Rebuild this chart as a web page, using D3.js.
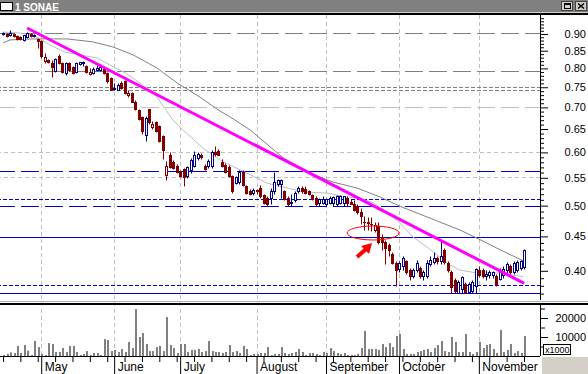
<!DOCTYPE html>
<html>
<head>
<meta charset="utf-8">
<script src="https://cdn.jsdelivr.net/npm/d3@7"></script>
<style>
  body { margin: 0; background: #fff; }
  svg { display: block; font-family: "Liberation Sans", Arial, sans-serif; }
</style>
</head>
<body>
<div id="chart"></div>
<script>
// daily prices, late April .. mid November (151 sessions)
const openP = [
  .900,.900,.897,.900,.894,.891,.882,.891,.900,.895,.885,
  .879,.821,.824,.815,.793,.835,.815,.788,.815,.804,.791,.813,.815,.807,.786,.788,.795,.795,.799,.788,.775,
  .746,.744,.760,.765,.730,.736,.714,.693,.677,.637,.695,.655,.665,.657,.635,.556,.595,.581,.573,
  .562,.566,.554,.564,.573,.589,.595,.573,.573,.573,.601,.603,.581,.575,.571,.554,.541,.543,.562,.534,.525,.523,
  .527,.532,.519,.514,.514,.525,.539,.539,.525,.514,.504,.509,.525,.532,.530,.525,.518,.514,.504,.505,
  .502,.505,.504,.503,.505,.504,.513,.506,.503,.499,.489,.473,.472,.470,.460,.467,.449,.442,.437,.424,.411,
  .402,.407,.413,.401,.393,.401,.404,.393,.393,.409,.412,.418,.413,.429,.411,.398,.387,.371,.376,.382,.372,.373,.380,
  .401,.401,.393,.394,.394,.393,.389,.394,.401,.407,.398,.401,.404,.405
];
const highP = [
  .906,.903,.912,.903,.897,.894,.897,.906,.903,.900,.888,
  .882,.843,.827,.824,.830,.841,.818,.818,.818,.807,.818,.818,.821,.810,.802,.804,.810,.813,.802,.791,.778,
  .762,.760,.765,.768,.744,.739,.717,.695,.680,.679,.697,.668,.668,.659,.637,.583,.600,.585,.577,
  .564,.569,.573,.588,.603,.601,.599,.577,.587,.605,.614,.607,.587,.579,.575,.556,.554,.564,.564,.536,.530,.532,
  .530,.536,.521,.516,.532,.562,.547,.547,.528,.516,.521,.525,.534,.534,.534,.528,.521,.516,.514,.516,
  .514,.516,.517,.518,.518,.516,.516,.511,.510,.503,.496,.483,.481,.481,.473,.473,.454,.445,.440,.427,.413,
  .413,.421,.415,.404,.404,.415,.407,.401,.415,.421,.427,.421,.445,.433,.413,.401,.390,.387,.393,.385,.385,.387,.404,
  .407,.404,.401,.401,.400,.395,.404,.407,.412,.409,.413,.415,.415,.431
];
const lowP = [
  .897,.891,.894,.891,.882,.882,.879,.888,.891,.891,.858,
  .830,.815,.815,.778,.790,.813,.788,.783,.793,.786,.788,.810,.807,.788,.783,.786,.793,.793,.786,.762,.742,
  .742,.742,.746,.734,.726,.712,.693,.670,.639,.624,.661,.650,.644,.622,.587,.545,.569,.567,.560,
  .551,.534,.549,.560,.571,.585,.587,.564,.569,.569,.593,.595,.571,.560,.551,.523,.538,.539,.534,.521,.518,.518,
  .521,.514,.502,.500,.502,.521,.534,.514,.509,.500,.500,.507,.523,.523,.520,.518,.509,.500,.500,.502,
  .500,.502,.500,.500,.502,.500,.500,.502,.491,.486,.470,.460,.460,.458,.457,.439,.429,.410,.421,.409,.380,
  .398,.401,.395,.387,.390,.398,.390,.387,.390,.407,.409,.409,.410,.410,.398,.371,.371,.371,.371,.371,.371,.371,.371,
  .391,.390,.387,.390,.390,.380,.387,.390,.395,.395,.395,.398,.401,.402
];
const closeP = [
  .903,.894,.903,.894,.885,.884,.897,.903,.894,.897,.879,
  .835,.832,.818,.804,.827,.815,.791,.815,.796,.788,.815,.818,.818,.791,.789,.799,.802,.804,.788,.765,.744,
  .749,.757,.749,.736,.735,.714,.695,.672,.646,.675,.665,.662,.646,.624,.605,.573,.571,.569,.562,
  .554,.552,.571,.585,.595,.597,.591,.567,.583,.601,.597,.595,.573,.562,.554,.525,.551,.562,.536,.523,.521,.528,
  .525,.516,.504,.502,.525,.543,.545,.546,.511,.502,.507,.523,.532,.525,.523,.521,.511,.502,.511,.512,
  .512,.514,.515,.516,.516,.517,.504,.503,.493,.489,.483,.472,.471,.469,.468,.442,.441,.433,.429,.411,.401,
  .411,.418,.398,.393,.401,.411,.393,.398,.411,.415,.418,.413,.421,.412,.401,.378,.373,.385,.392,.372,.382,.385,.402,
  .394,.393,.395,.398,.399,.382,.401,.402,.409,.398,.411,.412,.413,.430
];
// volume in thousands
const volume = [
  500,1100,1900,1600,5300,1600,5800,2800,500,7900,4700,1100,500,6800,6300,2100,2100,4200,2100,5300,
  5300,2100,500,1100,2600,500,1600,1600,500,8900,8400,2600,3200,2100,3700,2100,7400,4200,24700,10000,
  12100,6300,2600,2600,4700,5300,2600,20500,5800,4200,1600,6300,6300,2100,3200,3200,3700,
  2100,2600,7900,2600,2100,2100,1600,2100,5800,2100,2600,1600,5300,3700,500,1100,1100,1600,1600,4700,
  500,1100,1100,4700,1600,1100,1600,2100,3700,2100,500,1600,1600,1100,500,2100,1600,4200,2600,1600,
  1100,1600,500,500,500,1100,4200,13200,3700,3700,3700,3200,6300,4700,6800,4700,10500,11600,
  3700,1100,1100,1100,2100,2600,3200,3700,2100,4200,5800,7900,2600,2100,10000,7400,2100,2100,11600,2100,
  1100,2100,7400,4200,5800,6300,3700,1600,13700,2100,3200,6300,1600,2600,1600,10500
];

const months = ["May", "June", "July", "August", "September", "October", "November"];
const monthStart = [11, 32, 51, 73, 93, 114, 137];

// moving averages (session index, price)
const maLongIdx = [0, 2, 8.6, 18.4, 25.9, 31.6, 37.4, 44.3, 50.1, 56.7, 61.9, 66.2, 71.1, 80.6, 88.3, 95, 101.9, 108.5, 114.2, 122, 131.5, 137.3, 143, 149.7];
const maLong = [.873, .882, .885, .885, .876, .861, .838, .801, .761, .725, .694, .673, .648, .589, .559, .542, .531, .515, .499, .481, .460, .445, .430, .414];
const maShortIdx = [0, 4.9, 9.2, 13.5, 17.8, 22.1, 27, 30.8, 35.1, 39.4, 44.3, 48.9, 51.8, 57.5, 63.3, 70.2, 76, 81.7, 86.3, 93.2, 99, 102.7, 106.5, 110.5, 114.2, 118, 122, 125.8, 128.6, 131.5, 136.4, 143, 146.9, 149.7];
const maShort = [.906, .903, .894, .867, .846, .838, .829, .809, .788, .761, .725, .670, .648, .609, .581, .559, .540, .531, .524, .522, .515, .513, .505, .489, .471, .449, .434, .419, .408, .401, .397, .397, .394, .392];

// down trend line
const trendIdx = [6.9, 150];
const trendPrice = [0.9187, 0.3832];

// horizontal study lines
const levelPrices = [0.902, 0.792, 0.7514, 0.743, 0.7016, 0.6015, 0.551, 0.5624, 0.5109, 0.4999, 0.4498, 0.3806, 0.3707];
const levelStyle = [
  ["#808080", "18,6"], ["#808080", "18,6"], ["#808080", "4,2"], ["#808080", "4,2"], ["#c0c0c0", "18,6"],
  ["#c0c0c0", "4,3"], ["#c0c0c0", "4,3"], ["#0000cc", "18,6"], ["#0000cc", "4,2"], ["#0000cc", "18,6"],
  ["#0000cc", null], ["#0000cc", "4,2"], ["#0000cc", null]
];

const priceTicks = [0.40, 0.45, 0.50, 0.55, 0.60, 0.65, 0.70, 0.75, 0.80, 0.85, 0.90];
const volTicks = [10000, 20000];

// marked zone
const markIdx = 106.5, markPrice = 0.4553;
const arrowIdx = 106.2, arrowPrice = 0.4399;

const W = 588, H = 374;
const axisX = 540;
const N = closeP.length;

const svg = d3.select("#chart").append("svg")
  .attr("width", W)
  .attr("height", H);

const x = d3.scaleLinear().domain([0, N - 1]).range([3.1, 524.2]);
const y = d3.scaleLog().domain([0.9, 0.4]).range([34, 270.8]);
const yVol = d3.scaleLinear().domain([0, 10000]).range([356, 337]);
const px = i => Math.round(x(i)) + 0.5;
const py = p => Math.round(y(p)) + 0.5;

svg.append("rect").attr("width", W).attr("height", H).attr("fill", "#fff");

svg.append("clipPath").attr("id", "pclip")
  .append("rect").attr("x", 0).attr("y", 15).attr("width", axisX).attr("height", 285);

// month grid lines
svg.append("g")
  .selectAll("line")
  .data(monthStart)
  .join("line")
  .attr("x1", d => px(d)).attr("x2", d => px(d))
  .attr("y1", 15).attr("y2", 356)
  .attr("stroke", "#c0c0c0")
  .attr("stroke-dasharray", "4,3");

const main = svg.append("g").attr("clip-path", "url(#pclip)");

// horizontal lines
main.append("g")
  .selectAll("line")
  .data(levelPrices)
  .join("line")
  .attr("x1", 0).attr("x2", axisX)
  .attr("y1", d => py(d)).attr("y2", d => py(d))
  .attr("stroke", (d, i) => levelStyle[i][0])
  .attr("stroke-dasharray", (d, i) => levelStyle[i][1])
  .attr("stroke-dashoffset", 3);

// moving averages
const maLine = d3.line().x(d => x(d[0])).y(d => y(d[1]));
main.append("path")
  .attr("d", maLine(maLongIdx.map((d, i) => [d, maLong[i]])))
  .attr("fill", "none").attr("stroke", "#808080").attr("stroke-width", 1);
main.append("path")
  .attr("d", maLine(maShortIdx.map((d, i) => [d, maShort[i]])))
  .attr("fill", "none").attr("stroke", "#bdbdbd").attr("stroke-width", 1);

// candles
const idx = d3.range(N);
const colorOf = i => {
  const prev = i === 0 ? openP[i] : closeP[i - 1];
  return closeP[i] >= prev ? "#000080" : "#800000";
};
main.append("g")
  .selectAll("line")
  .data(idx)
  .join("line")
  .attr("x1", px).attr("x2", px)
  .attr("y1", i => py(highP[i])).attr("y2", i => py(lowP[i]))
  .attr("stroke", colorOf);
main.append("g")
  .selectAll("rect")
  .data(idx)
  .join("rect")
  .attr("x", i => px(i) - 1)
  .attr("width", 2)
  .attr("y", i => py(Math.max(openP[i], closeP[i])))
  .attr("height", i => Math.max(0.1, py(Math.min(openP[i], closeP[i])) - py(Math.max(openP[i], closeP[i]))))
  .attr("fill", i => closeP[i] < openP[i] ? colorOf(i) : "#fff")
  .attr("stroke", colorOf);

// trend line
main.append("line")
  .attr("x1", x(trendIdx[0])).attr("y1", y(trendPrice[0]))
  .attr("x2", x(trendIdx[1])).attr("y2", y(trendPrice[1]))
  .attr("stroke", "#ff00ff")
  .attr("stroke-width", 3);

// ellipse + arrow
main.append("ellipse")
  .attr("cx", x(markIdx)).attr("cy", y(markPrice))
  .attr("rx", 26).attr("ry", 7)
  .attr("fill", "none").attr("stroke", "#ff0000");
const arrow = main.append("g")
  .attr("transform", "translate(" + x(arrowIdx) + "," + y(arrowPrice) + ")");
arrow.append("line")
  .attr("x1", -6).attr("y1", 6).attr("x2", -15).attr("y2", 14)
  .attr("stroke", "#ff0000").attr("stroke-width", 4);
arrow.append("path").attr("d", "M0,0L-11,3L-3,11Z").attr("fill", "#ff0000");

// volume bars
svg.append("g")
  .selectAll("rect")
  .data(volume)
  .join("rect")
  .attr("x", (d, i) => Math.round(x(i)))
  .attr("width", 2)
  .attr("y", d => yVol(d))
  .attr("height", d => 356 - yVol(d))
  .attr("fill", "#808080");

// panel separators
svg.append("rect").attr("x", 0).attr("y", 301).attr("width", W).attr("height", 1).attr("fill", "#b0b0b0");
svg.append("rect").attr("x", 0).attr("y", 303).attr("width", W).attr("height", 2).attr("fill", "#000");

// right price axis
const styleAxis = g => {
  g.attr("font-family", null).attr("font-size", 11).attr("color", "#000");
  g.select(".domain").remove();
};
svg.append("g")
  .attr("transform", "translate(" + axisX + ",0)")
  .call(d3.axisRight(y).tickValues(d3.range(37, 96).filter(v => v % 5 !== 0 || v === 95).map(v => v / 100)).tickSize(4).tickFormat(""))
  .call(styleAxis);
svg.append("g")
  .attr("transform", "translate(" + axisX + ",0)")
  .call(d3.axisRight(y).tickValues(priceTicks).tickSize(8).tickFormat(d3.format(".2f")))
  .call(styleAxis)
  .call(g => g.selectAll("text").attr("x", 46).attr("text-anchor", "end"));

// volume axis
svg.append("g")
  .attr("transform", "translate(" + axisX + ",0)")
  .call(d3.axisRight(yVol).tickValues([5000, 15000, 25000]).tickSize(5).tickFormat(""))
  .call(styleAxis);
svg.append("g")
  .attr("transform", "translate(" + axisX + ",0)")
  .call(d3.axisRight(yVol).tickValues(volTicks).tickSize(8).tickFormat(d3.format("d")))
  .call(styleAxis)
  .call(g => g.selectAll("text").attr("x", 46).attr("text-anchor", "end"));

svg.append("path")
  .attr("d", "M" + (axisX + 0.5) + ",15V300M" + (axisX + 0.5) + ",305V356")
  .attr("stroke", "#000");

svg.append("rect").attr("x", 543.5).attr("y", 344.5).attr("width", 27).attr("height", 10)
  .attr("fill", "#fff").attr("stroke", "#000");
svg.append("text").attr("x", 545).attr("y", 352.5).attr("font-size", 9).text("x1000");

// time axis
svg.append("line").attr("x1", 0).attr("x2", axisX).attr("y1", 356.5).attr("y2", 356.5).attr("stroke", "#000");
const xb = d3.scaleLinear().domain(x.domain()).range(x.range().map(v => Math.round(v)));
svg.append("g")
  .attr("transform", "translate(0,356)")
  .call(d3.axisBottom(xb).tickValues(d3.range(0, N, 5).filter(v => !monthStart.includes(v))).tickSize(6).tickFormat(""))
  .call(styleAxis);
svg.append("g")
  .attr("transform", "translate(0,356)")
  .call(d3.axisBottom(xb).tickValues(monthStart).tickSize(18).tickFormat((d, i) => months[i]))
  .call(styleAxis)
  .call(g => g.selectAll("text")
    .attr("x", 3).attr("y", 15).attr("dy", null)
    .attr("text-anchor", "start").attr("font-size", 12));

svg.append("rect").attr("x", 542).attr("y", 357).attr("width", 46).attr("height", 17).attr("fill", "#d4d0c8");

// title bar
svg.append("rect").attr("x", 0).attr("y", 0).attr("width", W).attr("height", 12).attr("fill", "#808080");
svg.append("rect").attr("x", 0).attr("y", 12).attr("width", W).attr("height", 1).attr("fill", "#d4d0c8");
svg.append("rect").attr("x", 0).attr("y", 13).attr("width", W).attr("height", 2).attr("fill", "#000");
svg.append("rect").attr("x", 0.5).attr("y", 2.5).attr("width", 12).attr("height", 8)
  .attr("fill", "#fff").attr("stroke", "#000");
svg.append("text").attr("x", 15).attr("y", 10.5)
  .attr("fill", "#fff").attr("font-size", 10).attr("font-weight", "bold")
  .text("1 SONAE");

const btn = svg.append("g");
[561, 575].forEach(bx => {
  btn.append("rect").attr("x", bx + 0.5).attr("y", 1.5).attr("width", 11).attr("height", 9)
    .attr("fill", "#d4d0c8").attr("stroke", "#404040");
});
btn.append("rect").attr("x", 564.5).attr("y", 3.5).attr("width", 6).attr("height", 5)
  .attr("fill", "none").attr("stroke", "#000");
btn.append("line").attr("x1", 564).attr("x2", 571).attr("y1", 4).attr("y2", 4).attr("stroke", "#000").attr("stroke-width", 2);
btn.append("path").attr("d", "M578,3.5L584,8.5M584,3.5L578,8.5").attr("stroke", "#000").attr("stroke-width", 1.6);
</script>
</body>
</html>
